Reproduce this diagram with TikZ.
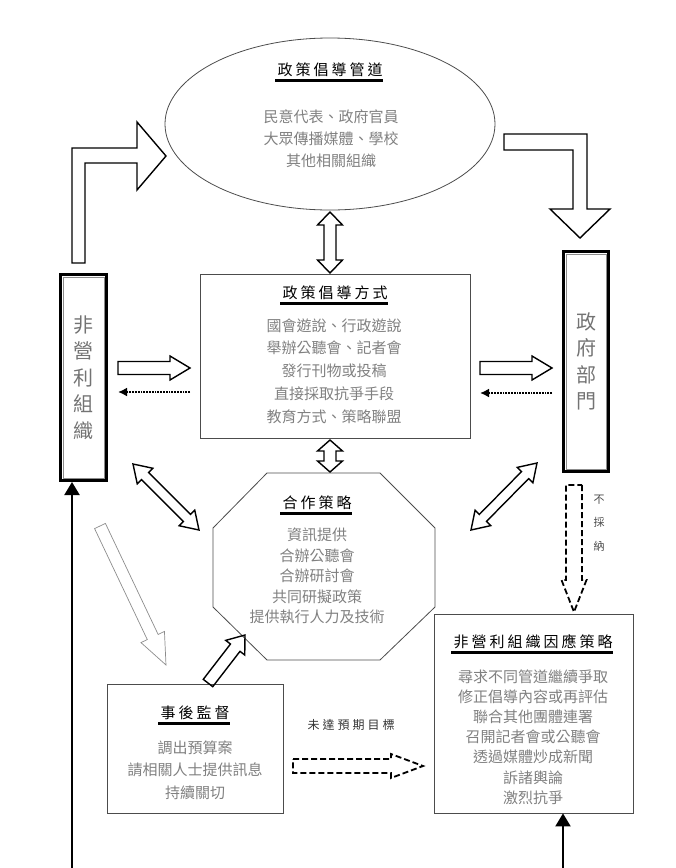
\documentclass[tikz,border=0pt]{standalone}
\usepackage{fontspec}
\setmainfont{Noto Sans CJK TC}
\newfontfamily\titlefont[LetterSpace=20]{Noto Sans CJK TC}
\usepackage{tikz}
\usetikzlibrary{shapes.geometric,arrows.meta,calc}

% hollow block arrow: [style]{from}{to}{shaft half}{head half}{head length}
\newcommand{\blockarrow}[6][]{%
  \coordinate (ba-p) at ($(#3)!#6!(#2)$);
  \draw[#1] ($(#2)!#4!90:(#3)$) -- ($(ba-p)!#4!90:(#3)$) -- ($(ba-p)!#5!90:(#3)$)
    -- (#3) -- ($(ba-p)!#5!-90:(#3)$) -- ($(ba-p)!#4!-90:(#3)$) -- ($(#2)!#4!-90:(#3)$) -- cycle;
}
% hollow double arrow, same arguments
\newcommand{\twinarrow}[6][]{%
  \coordinate (da-p) at ($(#2)!#6!(#3)$);
  \coordinate (da-q) at ($(#3)!#6!(#2)$);
  \draw[#1] (#2) -- ($(da-p)!#5!90:(#3)$) -- ($(da-p)!#4!90:(#3)$) -- ($(da-q)!#4!90:(#3)$)
    -- ($(da-q)!#5!90:(#3)$) -- (#3) -- ($(da-q)!#5!-90:(#3)$) -- ($(da-q)!#4!-90:(#3)$)
    -- ($(da-p)!#4!-90:(#3)$) -- ($(da-p)!#5!-90:(#3)$) -- cycle;
}

\begin{document}
\begin{tikzpicture}[x=1pt, y=-1pt]
    \tikzstyle{box} = [draw=black!70, line width=0.8pt]
    \tikzstyle{frame} = [draw, line width=3pt, inner sep=0pt, text=black!55, align=center, font=\fontsize{20}{26.5}\selectfont]
    \tikzstyle{heading} = [inner sep=0pt, font=\titlefont\fontsize{15}{18}\selectfont]
    \tikzstyle{body} = [inner sep=0pt, align=center, text=black!50]
    \tikzstyle{uline} = [line width=2.8pt]
    \tikzstyle{hollow} = [line width=1.4pt, line join=miter]
    \tikzstyle{faint} = [draw=black!45, line width=0.7pt]
    \tikzstyle{dashhollow} = [line width=1.8pt, dash pattern=on 6pt off 3pt]
    \tikzstyle{back} = [line width=1.8pt, densely dotted, -{Latex[length=9pt,width=9pt]}]
    \tikzstyle{feed} = [line width=2pt, -{Triangle[length=13pt,width=15pt]}]

    \useasboundingbox (0,0) rectangle (676,868);

    % advocacy channels
    \node (chan) [ellipse, box, minimum width=330, minimum height=172, inner sep=0pt] at (330,124) {};
    \node (chan-t) [heading] at (330,70) {政策倡導管道};
    \draw [uline] ($(chan-t.south west)+(-2,3)$) -- ($(chan-t.south east)+(0,3)$);
    \node (chan-b) [body, font=\fontsize{15}{22}\selectfont] at (331,139) {民意代表、政府官員\\大眾傳播媒體、學校\\其他相關組織};

    % advocacy methods
    \node (mode) [rectangle, box, minimum width=270, minimum height=164, inner sep=0pt] at (335,356) {};
    \node (mode-t) [heading] at (335,293) {政策倡導方式};
    \draw [uline] ($(mode-t.south west)+(-2,3)$) -- ($(mode-t.south east)+(0,3)$);
    \node (mode-b) [body, font=\fontsize{15}{22.8}\selectfont] at (334,371) {國會遊說、行政遊說\\舉辦公聽會、記者會\\發行刊物或投稿\\直接採取抗爭手段\\教育方式、策略聯盟};

    % cooperation
    \draw [box] (267,473) -- (380,473) -- (435,528) -- (435,607) -- (380,660) -- (267,660) -- (213,607) -- (213,528) -- cycle;
    \coordinate (coop) at (324,566);
    \node (coop-t) [heading] at (317,503) {合作策略};
    \draw [uline] ($(coop-t.south west)+(-2,3)$) -- ($(coop-t.south east)+(0,3)$);
    \node (coop-b) [body, font=\fontsize{15}{20.5}\selectfont] at (317,576) {資訊提供\\合辦公聽會\\合辦研討會\\共同研擬政策\\提供執行人力及技術};

    % actors
    \node (npo) [frame, minimum width=46, minimum height=206] at (83.5,377.5) {非\\營\\利\\組\\織};
    \draw [black!45, line width=0.8pt] ($(npo.south west)+(4,-4)$) rectangle ($(npo.north east)+(-4,4)$);
    \node (gov) [frame, minimum width=45, minimum height=220] at (586,361.5) {政\\府\\部\\門};
    \draw [black!45, line width=0.8pt] ($(gov.south west)+(4,-4)$) rectangle ($(gov.north east)+(-4,4)$);

    % response strategy
    \node (resp) [rectangle, box, minimum width=199, minimum height=199, inner sep=0pt] at (533.5,713.5) {};
    \node (resp-t) [heading] at (533,642) {非營利組織因應策略};
    \draw [uline] ($(resp-t.south west)+(-2,3)$) -- ($(resp-t.south east)+(0,3)$);
    \node (resp-b) [body, font=\fontsize{15}{20.2}\selectfont] at (533,737) {尋求不同管道繼續爭取\\修正倡導內容或再評估\\聯合其他團體連署\\召開記者會或公聽會\\透過媒體炒成新聞\\訴諸輿論\\激烈抗爭};

    % monitoring
    \node (watch) [rectangle, box, minimum width=176, minimum height=129, inner sep=0pt] at (195,748.5) {};
    \node (watch-t) [heading] at (195,713) {事後監督};
    \draw [uline] ($(watch-t.south west)+(-2,3)$) -- ($(watch-t.south east)+(0,3)$);
    \node (watch-b) [body, font=\fontsize{15}{22.5}\selectfont] at (195,770) {調出預算案\\請相關人士提供訊息\\持續關切};

    \node (miss) [inner sep=0pt, font=\fontsize{12}{14}\selectfont\addfontfeature{LetterSpace=25}, text=black!80] at (351,725) {未達預期目標};
    \node (reject) [inner sep=0pt, align=center, font=\fontsize{11}{23.5}\selectfont, text=black!70] at (599,523) {不\\採\\納};

    % bent arrows at the top
    \draw [hollow] (72,263) -- (72,148) -- (137,148) -- (137,122) -- (166,156) -- (137,190) -- (137,163) -- (85,163) -- (85,263) -- cycle;
    \draw [hollow] (504,134) -- (587,134) -- (587,209) -- (610,209) -- (580,238) -- (550,209) -- (573,209) -- (573,150) -- (504,150) -- cycle;

    % vertical double arrows
    \coordinate (chan-s) at (330,212);
    \coordinate (mode-n) at (330,273);
    \coordinate (mode-s) at (330,440);
    \coordinate (coop-n) at (330,472);
    \twinarrow[hollow]{chan-s}{mode-n}{6pt}{12.5pt}{13pt}
    \twinarrow[hollow]{mode-s}{coop-n}{6pt}{12.5pt}{11pt}

    % side arrows
    \coordinate (npo-e1) at (118,368);
    \coordinate (mode-w1) at (190,368);
    \coordinate (npo-e2) at (118,392);
    \coordinate (mode-w2) at (190,392);
    \coordinate (mode-e1) at (480,368);
    \coordinate (gov-w1) at (552,368);
    \coordinate (mode-e2) at (480,393);
    \coordinate (gov-w2) at (552,393);
    \blockarrow[hollow]{npo-e1}{mode-w1}{6.5pt}{12pt}{20pt}
    \draw [back] (mode-w2) -- (npo-e2);
    \blockarrow[hollow]{mode-e1}{gov-w1}{6.5pt}{12pt}{20pt}
    \draw [back] (gov-w2) -- (mode-e2);

    % diagonal double arrows
    \coordinate (npo-se) at (133,464);
    \coordinate (coop-nw) at (199,530);
    \coordinate (gov-sw) at (537,463);
    \coordinate (coop-ne) at (471,530);
    \twinarrow[hollow]{npo-se}{coop-nw}{5pt}{11pt}{17pt}
    \twinarrow[hollow]{gov-sw}{coop-ne}{5pt}{11pt}{17pt}

    % monitoring path
    \coordinate (npo-s2) at (100,526);
    \coordinate (watch-n) at (166,665);
    \blockarrow[faint]{npo-s2}{watch-n}{6pt}{13pt}{31pt}
    \coordinate (watch-ne) at (208,683);
    \coordinate (coop-sw) at (245,635);
    \blockarrow[hollow]{watch-ne}{coop-sw}{6pt}{12pt}{16pt}

    % rejection and unmet goals
    \coordinate (gov-s) at (574,485);
    \coordinate (resp-n) at (574,612);
    \blockarrow[dashhollow]{gov-s}{resp-n}{8pt}{12.5pt}{32pt}
    \coordinate (watch-e) at (293,766);
    \coordinate (resp-w) at (423,766);
    \blockarrow[dashhollow]{watch-e}{resp-w}{7pt}{12pt}{32pt}

    % feedback lines from below
    \coordinate (low-l) at (72,868);
    \coordinate (low-r) at (563,868);
    \draw [feed] (low-l) -- (npo.south -| low-l);
    \draw [feed] (low-r) -- (resp.south -| low-r);
\end{tikzpicture}
\end{document}
